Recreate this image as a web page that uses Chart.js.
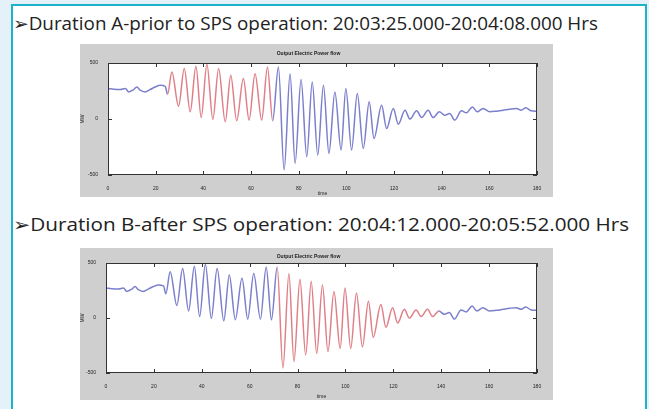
<!DOCTYPE html>
<html>
<head>
<meta charset="utf-8">
<script src="https://cdn.jsdelivr.net/npm/chart.js@4.4.0/dist/chart.umd.min.js"></script>
<style>
  html, body { margin: 0; padding: 0; width: 649px; height: 409px; overflow: hidden; background: #e4f1f8; }
  #frame { position: absolute; left: 11px; top: 4px; width: 632px; height: 420px; border: 2px solid #1ab3c8; background: #fff; }
  .line { position: absolute; left: 13px; font-family: "Open Sans", sans-serif; font-size: 18px; line-height: 18px;
          color: #222; white-space: nowrap; transform-origin: 0 0; }
  .fig { position: absolute; left: 80px; width: 473px; background: #cfcfcf; }
  .fig canvas { display: block; }
</style>
</head>
<body>
<div id="frame"></div>
<div class="line" id="lineA" style="top:14px">&#10146;Duration A-prior to SPS operation: 20:03:25.000-20:04:08.000 Hrs</div>
<div class="fig" style="top:44px;height:153px"><canvas id="chartA" width="473" height="153"></canvas></div>
<div class="line" id="lineB" style="top:215px">&#10146;Duration B-after SPS operation: 20:04:12.000-20:05:52.000 Hrs</div>
<div class="fig" style="top:248px;height:152px"><canvas id="chartB" width="473" height="152"></canvas></div>

<script>
// output electric power flow (time in s, power in MW)
const timeSec = [0, 2.4, 5.2, 7.3, 8.7, 10.8, 12.1, 13.5, 15.6, 17.7,
  19.8, 21.9, 24.0, 25.0, 26.8, 29.6, 32.0, 34.5, 36.9, 39.1,
  41.5, 44.0, 46.4, 49.2, 51.5, 54.0, 56.8, 59.2, 61.7, 64.5,
  66.9, 69.1, 71.5, 73.9, 76.4, 78.5, 81.0, 83.4, 85.7, 88.0,
  90.4, 92.7, 95.2, 97.8, 99.8, 102.2, 104.6, 107.1, 109.6, 111.6,
  114.8, 116.9, 119.7, 121.8, 124.6, 126.7, 129.5, 131.6, 134.3, 136.4,
  139.0, 141.3, 143.4, 145.5, 148.3, 150.4, 152.9, 154.9, 157.4, 160.2,
  163.0, 165.8, 168.6, 171.4, 173.4, 175.3, 177.6, 180];
const powerMW = [272, 266, 263, 272, 242, 263, 286, 257, 242, 263,
  286, 301, 292, 221, 420, 114, 450, 64, 470, 13,
  488, -4, 450, -25, 390, -16, 361, -10, 405, -10,
  464, -16, 464, -455, 405, -396, 352, -337, 331, -322,
  301, -307, 242, -277, 272, -277, 227, -263, 153, -174,
  123, -85, 94, -46, 79, -1, 73, 13, 79, 13,
  64, 34, 49, -10, 73, 55, 108, 64, 94, 64,
  70, 79, 88, 94, 79, 100, 73, 70];

// highlighted windows (red part of each trace)
const durationA = [25.0, 67.5];
const durationB = [71.5, 139.0];

const xTickVals = [0, 20, 40, 60, 80, 100, 120, 140, 160, 180];
const yTickVals = [-500, 0, 500];

const RED = '#df8088';
const BLUE = '#7b7fcc';

// fit header lines to their width in the picture
function fitLine(id, w) {
  const el = document.getElementById(id);
  el.style.transform = 'scaleX(' + (w / el.offsetWidth) + ')';
}
fitLine('lineA', 585);
fitLine('lineB', 616);

// matlab-ish axes box: white plot area, black frame, inward ticks
const axesBox = {
  id: 'axesBox',
  beforeDraw(chart) {
    const a = chart.chartArea, c = chart.ctx;
    c.save();
    c.fillStyle = '#fff';
    c.fillRect(a.left, a.top, a.right - a.left, a.bottom - a.top);
    c.restore();
  },
  afterDatasetsDraw(chart) {
    const a = chart.chartArea, c = chart.ctx;
    const xs = chart.scales.x, ys = chart.scales.y;
    c.save();
    c.strokeStyle = '#333';
    c.lineWidth = 1;
    c.strokeRect(a.left + 0.5, a.top + 0.5, a.right - a.left - 1, a.bottom - a.top - 1);
    c.beginPath();
    xTickVals.forEach(v => {
      const px = Math.round(xs.getPixelForValue(v)) + 0.5;
      c.moveTo(px, a.bottom); c.lineTo(px, a.bottom - 4);
      c.moveTo(px, a.top); c.lineTo(px, a.top + 4);
    });
    yTickVals.forEach(v => {
      const py = Math.round(ys.getPixelForValue(v)) + 0.5;
      c.moveTo(a.left, py); c.lineTo(a.left + 4, py);
      c.moveTo(a.right, py); c.lineTo(a.right - 4, py);
    });
    c.stroke();
    c.restore();
  }
};

function makeChart(id, span, pad) {
  const pts = timeSec.map((t, i) => ({ x: t, y: powerMW[i] }));
  const font = { family: 'Liberation Sans', size: 5 };
  return new Chart(document.getElementById(id), {
    type: 'line',
    data: {
      datasets: [{
        data: pts,
        borderColor: BLUE,
        borderWidth: 1.5,
        pointRadius: 0,
        cubicInterpolationMode: 'monotone',
        segment: {
          borderColor: ctx => {
            const x = ctx.p0.parsed.x;
            return (x >= span[0] && x < span[1]) ? RED : BLUE;
          }
        }
      }]
    },
    options: {
      responsive: false,
      devicePixelRatio: 1,
      animation: false,
      layout: { padding: { left: 0, right: 16, top: 0, bottom: 0 } },
      plugins: {
        legend: { display: false },
        tooltip: { enabled: false },
        title: {
          display: true,
          text: 'Output Electric Power flow',
          color: '#222',
          font: font,
          padding: { top: pad.titleTop, bottom: pad.titleBottom }
        }
      },
      scales: {
        x: {
          type: 'linear',
          min: 0, max: 180,
          afterBuildTicks: s => { s.ticks = xTickVals.map(v => ({ value: v })); },
          afterFit: s => { s.height = pad.bottom; },
          ticks: { font: font, color: '#222', autoSkip: false, maxRotation: 0, padding: 3 },
          grid: { display: false },
          border: { display: false },
          title: { display: true, text: 'time', font: font, color: '#222', padding: 0 }
        },
        y: {
          min: -500, max: 500,
          afterBuildTicks: s => { s.ticks = yTickVals.map(v => ({ value: v })); },
          afterFit: s => { s.width = pad.left; },
          ticks: { font: font, color: '#222', padding: 2 },
          grid: { display: false },
          border: { display: false },
          title: { display: true, text: 'MW', font: font, color: '#222', padding: 0 }
        }
      }
    },
    plugins: [axesBox]
  });
}

makeChart('chartA', durationA, { titleTop: 7, titleBottom: 6, bottom: 22, left: 28 });
makeChart('chartB', durationB, { titleTop: 6, titleBottom: 3, bottom: 27, left: 26 });
</script>
</body>
</html>
